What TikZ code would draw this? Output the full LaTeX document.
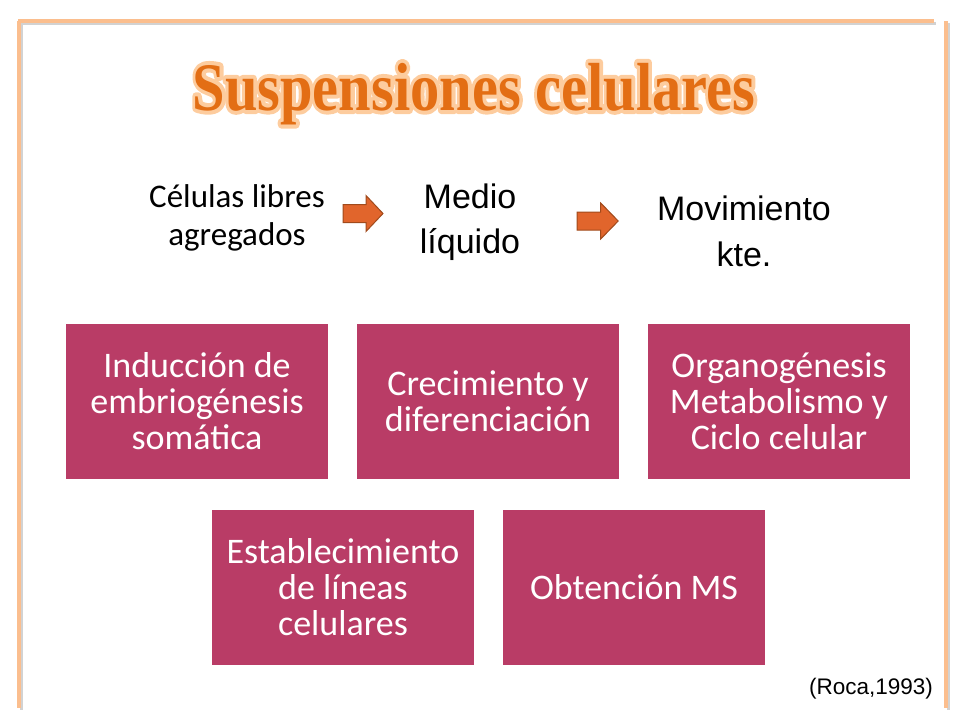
\documentclass[tikz,border=0pt]{standalone}
\usepackage{fontspec}
\setmainfont{Carlito}
\newfontfamily\arialfont{Liberation Sans}
\newfontfamily\titlefont{Liberation Serif}
\usetikzlibrary{positioning, calc}
\definecolor{marco}{HTML}{FBBE8E}
\definecolor{caja}{HTML}{B93C66}
\definecolor{flecha}{HTML}{E1652C}
\definecolor{flechaborde}{HTML}{A04A1C}
\definecolor{titulo}{HTML}{E36E14}

% halo claro alrededor del titulo
\newcommand{\halo}[1]{\special{pdf:literal direct 1 Tr 8 w 1 j 1 J 0.992 0.80 0.62 RG}\rlap{#1}\special{pdf:literal direct 0 Tr}#1}

\tikzset{
  caja/.style={rectangle, fill=caja, text=white, minimum width=262pt, minimum height=155pt,
    inner sep=0pt, align=center, font=\fontsize{36}{36}\selectfont},
  linea/.style={draw=marco, line width=4pt},
  sombra/.style={draw=gray!35, line width=3pt},
  flechabloque/.pic={
    \filldraw[fill=flecha, draw=flechaborde, line width=1pt, line join=miter]
      (0,-9) -- (23,-9) -- (23,-18) -- (40,0) -- (23,18) -- (23,9) -- (0,9) -- cycle;
  }
}

\begin{document}
\begin{tikzpicture}[x=1pt, y=-1pt]
      \useasboundingbox (0,0) rectangle (960,720);

      % marco
      \draw[sombra] (20,23) -- (936,23);
      \draw[sombra] (21,23) -- (21,710);
      \draw[sombra] (948,23) -- (948,710);
      \draw[linea] (18,21) -- (934,21);
      \draw[linea] (19,21) -- (19,708);
      \draw[linea] (946,21) -- (946,708);

      % titulo
      \node[text=titulo, anchor=base, font=\titlefont\bfseries\fontsize{68}{68}\selectfont]
        (titulo) at (474,110) {\scalebox{0.86}[1]{\halo{Suspensiones celulares}}};

      % fila superior
      \node[align=center, font=\fontsize{33}{38}\selectfont] (celulas) at (237,218) {Células libres\\agregados};
      \node[align=center, font=\arialfont\fontsize{34}{45}\selectfont] (medio) at (470,222) {Medio\\líquido};
      \node[align=center, font=\arialfont\fontsize{34}{46}\selectfont] (movimiento) at (744,231) {Movimiento\\kte.};
      \pic (f1) at (343,213.5) {flechabloque};
      \pic[xscale=1.03] (f2) at (577,221) {flechabloque};

      % cajas
      \node[caja] (induccion) at (197,401.5) {Inducción de\\embriogénesis\\somática};
      \node[caja] (crecimiento) at (488,401.5) {Crecimiento y\\diferenciación};
      \node[caja] (organo) at (779,401.5) {Organogénesis\\Metabolismo y\\Ciclo celular};
      \node[caja] (lineas) at (343,587.5) {Establecimiento\\de líneas\\celulares};
      \node[caja] (ms) at (634,587.5) {Obtención MS};

      \node[font=\arialfont\fontsize{22.5}{22.5}\selectfont] (cita) at (871,689) {(Roca,1993)};
    \end{tikzpicture}
\end{document}
